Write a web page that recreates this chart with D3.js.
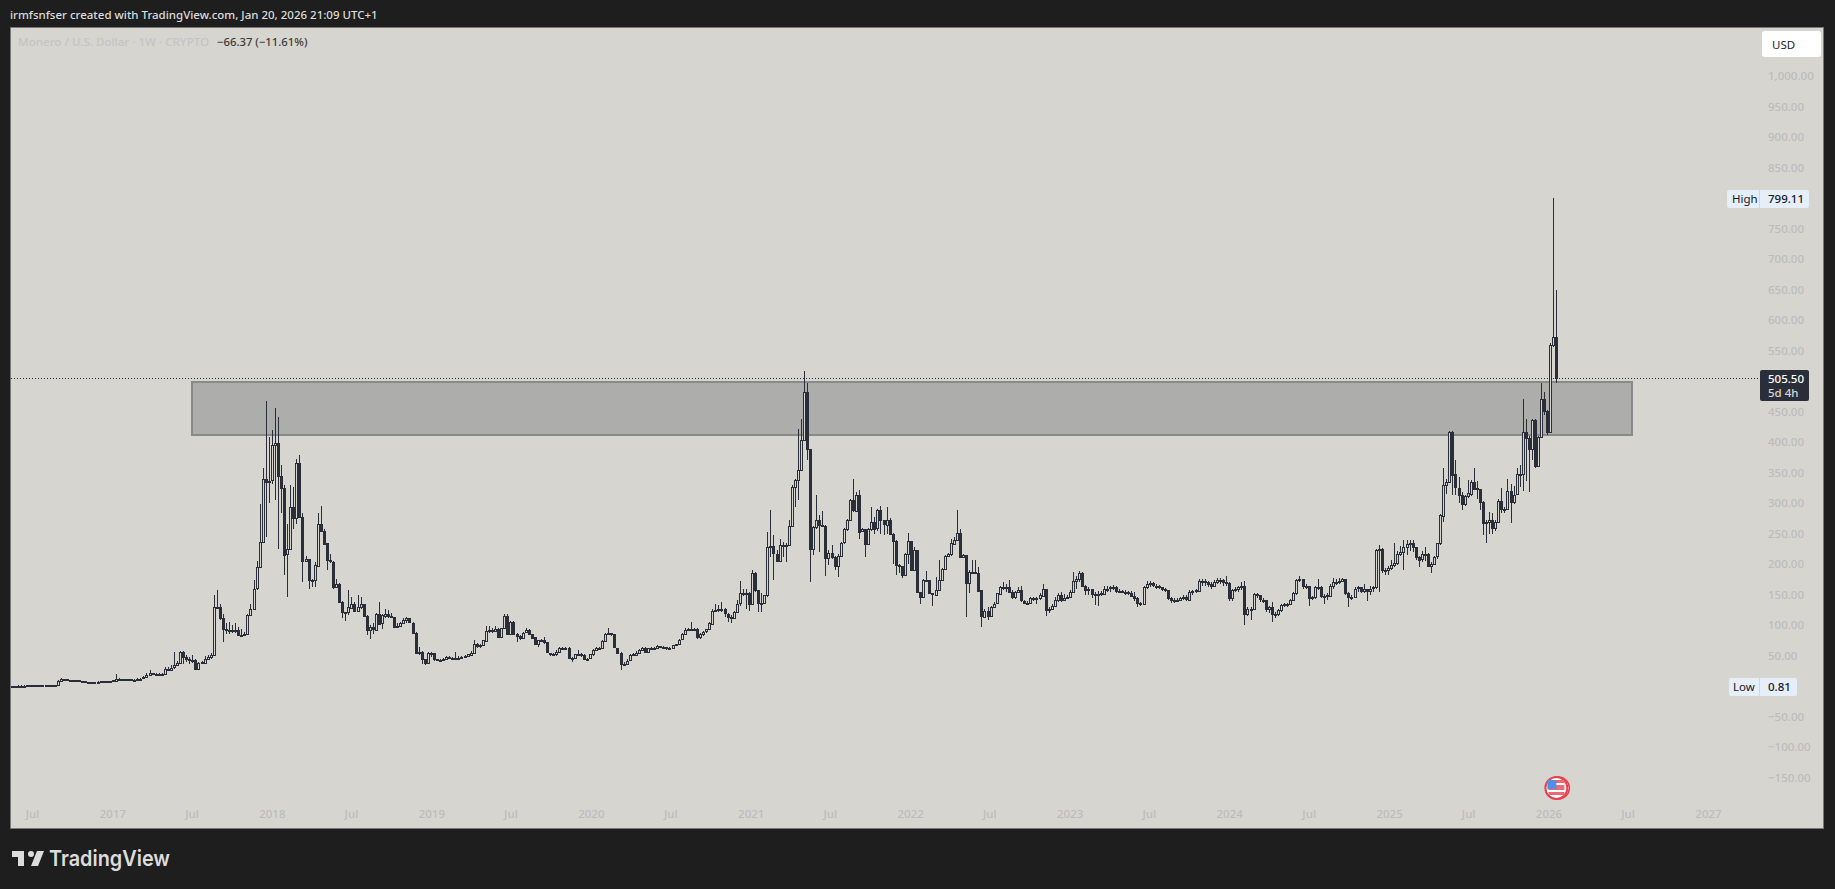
<!DOCTYPE html>
<html><head><meta charset="utf-8">
<script src="https://cdn.jsdelivr.net/npm/d3@7"></script>
<style>
html,body{margin:0;padding:0;background:#1e1e1e;overflow:hidden}
svg{display:block}
.axis text{font-family:"Noto Sans",sans-serif;font-size:11.5px;font-weight:500;fill:#bcbcbc}
.axis path{display:none}
</style></head><body><svg id="c" width="1835" height="889"></svg>
<script>
const startWeek = "2016-05-16";
const closes = [
1.0,1.1,1.2,1.2,1.2,1.3,1.3,1.3,1.4,1.4,
1.4,1.6,1.8,1.7,1.7,9,12,11.5,11,10.5,
10,9.5,9,8,7.5,7,6.5,6.8,7.5,8,
8.2,8.3,8.2,10,12.5,11.5,11,11.5,11.5,11,
11,12,12.5,14.5,18,21,20,19.5,20,20,
29,27,30,34,38,56,
48,44,43,43,27.5,38,39,45,48,51,
130,129,111,93,91,92,91,92,84,84,
86,117,127,160,195,236,340,335,337,395,
398,344,325,216,225,294,276,366,278,206,
209,174,173,198,266,255,234,206,204,163,
168,138,122,120,129,135,123,129,134,115,
92,97,93,119,103,116,119,115,113,97,
98,103,108,111,104,88,55,56,44,37,
54,54,44,43,43,44,48,47,46,45,
47,48,49,52,55,70,67,67,
75,91,92,91,94,81,95,115,85,105,
86,83,79,88,92,86,80,69,75,76,
72,55,53,52,56,62,63,63,47,45,
52,53,51,45,45,52,59,62,63,74,
86,87,85,63,55,37,37,42,51,52,
55,60,63,56,62,63,63,66,64,64,
63,62,67,69,76,85,92,93,92,93,
80,85,89,93,103,124,125,127,126,119,
114,112,122,135,
152,152,153,135,185,157,136,136,149,228,
229,217,206,232,231,231,262,326,338,354,
403,482,389,225,261,272,264,263,211,219,
212,197,213,235,257,272,305,288,314,254,
258,234,258,269,258,288,272,265,273,250,
238,198,197,182,216,238,190,223,154,146,
174,174,152,150,158,174,192,213,216,234,
240,251,212,215,169,187,187,186,157,114,
124,116,130,135,152,163,163,163,154,145,
154,157,140,137,137,145,144,144,149,
160,126,126,131,141,149,141,145,146,155,
173,176,186,165,158,160,151,149,151,152,
160,160,162,163,156,156,155,155,153,148,
145,137,135,163,168,169,165,164,163,160,
158,145,142,141,141,145,146,142,155,156,
157,173,173,171,168,165,171,174,174,170,
169,145,158,160,163,165,119,127,127,151,
149,142,141,127,130,119,118,125,133,134,
135,141,152,174,175,164,164,145,146,163,
163,148,148,149,165,171,171,172,175,152,
146,147,160,162,156,159,156,160,162,223,
224,189,190,193,198,202,217,
220,228,233,234,228,212,207,216,217,198,
201,212,234,280,330,335,417,347,325,313,
298,311,316,335,324,323,302,267,269,272,
259,269,304,291,291,320,302,314,347,347,
416,406,388,436,361,408,470,451,417,559,
571.87,505.5];
const highs = [
1.1,1.2,1.3,1.3,1.3,1.4,1.4,1.4,1.5,1.5,
1.6,2.2,2.0,1.9,1.8,10,13,12.5,11.5,11,
10.5,10,9.5,8.5,8,7.5,7,7.2,8,8.5,
8.6,8.7,8.6,11,20,13,12,12,12,12,
11.5,13,14,16,21,26,22,21,21,21,
32,31,34,56,41,58,
58,51,48,51,44,39,42,49,51,55,
149,158,134,119,103,105,100,103,97,94,
89,119,135,174,205,298,357,468,408,419,
455,441,362,329,266,330,327,373,378,284,
214,209,176,204,283,296,257,234,217,205,
176,169,139,122,157,146,138,149,146,135,
116,100,103,120,138,119,127,125,120,114,
103,105,111,114,112,105,89,64,58,45,
56,56,55,45,45,46,49,49,48,56,
50,50,51,53,57,76,71,70,
76,98,98,95,98,96,96,119,119,107,
107,88,84,89,96,93,85,81,76,78,
81,73,55,54,59,64,65,65,64,48,
53,60,55,52,47,53,61,64,65,76,
88,96,88,85,63,56,40,44,52,54,
57,61,65,64,63,65,65,68,66,66,
65,64,68,70,78,87,95,95,105,96,
95,87,90,94,105,126,135,133,138,128,
120,116,124,142,
173,160,159,154,190,187,158,152,150,253,
288,247,223,242,236,234,272,329,340,422,
438,516,497,389,262,314,280,287,264,223,
231,213,216,237,260,274,306,339,318,321,
259,258,259,294,277,291,296,273,294,276,
251,239,200,197,218,251,238,228,223,155,
176,189,174,153,179,206,193,215,218,242,
245,288,258,217,215,190,207,206,195,158,
126,130,131,138,153,165,171,168,174,157,
156,162,165,141,140,147,147,146,152,
168,160,130,134,146,152,155,151,150,158,
187,180,188,187,166,163,160,154,156,156,
165,165,165,166,164,160,158,158,156,156,
155,146,138,165,172,172,170,168,166,163,
161,158,146,144,144,147,149,149,158,158,
160,176,176,175,172,170,174,178,177,176,
180,170,160,163,165,170,172,130,130,153,
153,150,144,142,132,138,122,127,135,137,
137,143,155,176,181,176,168,165,148,165,
175,165,151,153,168,178,175,178,178,176,
154,150,163,165,162,168,160,165,165,225,
232,226,193,197,206,234,222,
230,239,240,240,240,228,214,222,228,218,
203,214,235,282,358,340,418,418,370,343,
318,313,338,338,357,337,322,304,272,286,
284,272,307,325,293,340,332,328,357,362,
470,437,410,438,438,410,496,482,452,562,
799.11,649];
const lows = [
0.81,1.0,1.1,1.1,1.1,1.2,1.2,1.2,1.3,1.3,
1.3,1.4,1.6,1.6,1.6,1.7,8.5,11,10.5,10,
9.5,9,8,7.5,7,6.5,6,6.3,6.8,7.5,
7.8,8,8,8,9.5,11,10.5,10.5,11,10.5,
10.5,10.8,11.8,12,14,17,19,19,19,19.5,
19.5,26,26,28,33,37,
37,40,37,38,26,27,36,37,45,45,
51,126,108,73,86,86,87,88,83,82,
82,84,116,126,158,194,236,245,300,332,
305,225,283,182,146,227,258,266,277,171,
204,160,163,163,198,254,233,190,202,160,
162,136,111,107,116,127,122,121,127,114,
84,78,86,92,102,94,111,112,111,96,
96,97,103,104,103,86,54,51,37,35,
36,48,42,41,41,42,43,44,44,44,
45,46,47,48,50,54,62,63,
66,74,88,88,90,80,80,94,84,85,
84,73,75,78,87,84,78,67,64,74,
70,54,50,50,50,55,60,60,46,40,
44,50,48,43,43,44,50,58,60,62,
73,84,82,62,54,27,35,36,41,50,
50,54,59,54,55,61,61,62,62,62,
60,60,61,66,69,76,84,90,90,91,
78,78,83,87,92,102,122,122,122,113,
106,104,110,120,
132,148,127,124,135,155,122,122,135,147,
212,174,205,206,212,204,231,262,294,305,
354,403,371,171,215,258,220,261,180,198,
209,190,179,212,233,255,270,286,287,242,
253,212,231,255,250,255,249,247,250,249,
201,182,185,178,182,201,189,189,153,135,
145,172,151,132,149,157,174,191,212,214,
233,239,210,212,114,152,184,184,155,97,
112,109,115,129,134,150,157,154,153,143,
143,152,138,134,134,136,140,135,142,
148,115,120,125,130,138,138,140,143,145,
154,160,170,163,150,150,145,133,131,148,
150,155,155,158,152,152,152,150,150,146,
140,129,131,135,160,162,162,160,160,156,
154,142,136,136,138,140,142,140,140,150,
152,155,165,165,163,160,162,168,168,165,
165,140,140,155,155,158,100,115,108,125,
145,138,136,122,120,105,112,115,122,130,
130,133,139,150,170,160,160,132,142,143,
158,145,135,142,147,160,166,168,170,150,
130,142,145,155,152,152,140,150,155,160,
155,186,183,182,190,196,198,
214,190,215,222,220,206,195,203,205,196,
186,198,208,232,269,315,333,313,313,300,
288,295,308,312,322,307,288,247,234,249,
250,255,267,283,283,288,267,298,313,326,
320,337,318,370,358,360,407,445,411,415,
555,497];

const priceTicks = [1000,950,900,850,750,700,650,600,550,450,400,350,300,250,200,150,100,50,-50,-100,-150];
const timeTickDates = ["2016-07-01","2017-01-01","2017-07-01","2018-01-01","2018-07-01","2019-01-01","2019-07-01","2020-01-01","2020-07-01","2021-01-01","2021-07-01","2022-01-01","2022-07-01","2023-01-01","2023-07-01","2024-01-01","2024-07-01","2025-01-01","2025-07-01","2026-01-01","2026-07-01","2027-01-01"];
const timeTickLabels = ["Jul","2017","Jul","2018","Jul","2019","Jul","2020","Jul","2021","Jul","2022","Jul","2023","Jul","2024","Jul","2025","Jul","2026","Jul","2027"];
const zoneTop = 498.4, zoneBottom = 411.6, zoneStart = "2017-07-02", zoneEnd = "2026-07-11";
const lastPrice = 505.5, highPrice = 799.11, lowPrice = 0.81;

const C = {page:"#1e1e1e",bg:"#d6d5d0",ink:"#2a2e39"};
const svg = d3.select("#c");
const parse = d3.utcParse("%Y-%m-%d");
const x = d3.scaleUtc().domain([parse("2016-07-01"),parse("2027-01-01")]).range([32,1708]);
const y = d3.scaleLinear().domain([1000,-150]).range([75.8,777.8]);
const week0 = parse(startWeek);
const bars = closes.map((c,i)=>({date:d3.utcWeek.offset(week0,i),o:i?closes[i-1]:c,c,h:highs[i],l:lows[i]}));

svg.append("rect").attr("width",1835).attr("height",889).attr("fill",C.page);
svg.append("rect").attr("x",10.5).attr("y",27.5).attr("width",1813).attr("height",801).attr("fill",C.bg).attr("stroke","#77787a");
svg.append("defs").append("clipPath").attr("id","plot").append("rect").attr("x",11).attr("y",28).attr("width",1812).attr("height",800);

// zone
const zx0=Math.round(x(parse(zoneStart))), zx1=Math.round(x(parse(zoneEnd))), zy0=Math.round(y(zoneTop)), zy1=Math.round(y(zoneBottom));
svg.append("rect").attr("x",zx0).attr("y",zy0).attr("width",zx1-zx0).attr("height",zy1-zy0)
 .attr("fill","#adadab").attr("stroke","#88898b").attr("stroke-width",2);

// last price line
svg.append("line").attr("x1",11).attr("x2",1760).attr("y1",Math.round(y(lastPrice))+.5).attr("y2",Math.round(y(lastPrice))+.5)
 .attr("stroke","#2a2e39").attr("stroke-width",1).attr("stroke-dasharray","1 2");

// candles
const g = svg.append("g").attr("clip-path","url(#plot)").attr("shape-rendering","crispEdges");
const bx = d=>Math.round(x(d.date));
g.selectAll("line.w").data(bars).join("line").attr("class","w")
 .attr("x1",d=>bx(d)+.5).attr("x2",d=>bx(d)+.5)
 .attr("y1",d=>y(d.h)).attr("y2",d=>y(d.l)).attr("stroke",C.ink).attr("stroke-width",1);
g.selectAll("rect.b").data(bars).join("rect").attr("class","b")
 .attr("x",d=>bx(d)-.5).attr("width",2)
 .attr("y",d=>Math.round(y(Math.max(d.o,d.c)))+.5)
 .attr("height",d=>Math.max(1,Math.round(y(Math.min(d.o,d.c))-y(Math.max(d.o,d.c)))))
 .attr("fill",d=>d.c>=d.o?C.bg:C.ink).attr("stroke",C.ink).attr("stroke-width",1);

// axes
svg.append("g").attr("class","axis").attr("transform","translate(1768,0)")
 .call(d3.axisRight(y).tickValues(priceTicks).tickSize(0).tickPadding(0).tickFormat(d3.format(",.2f")));
svg.append("g").attr("class","axis").attr("transform","translate(0,810)")
 .call(d3.axisBottom(x).tickValues(timeTickDates.map(parse)).tickSize(0).tickPadding(0).tickFormat((d,i)=>timeTickLabels[i]));
svg.selectAll(".tick line").remove();

const T=(tx,ty,s,o={})=>svg.append("text").attr("x",tx).attr("y",ty).text(s)
 .attr("font-family",o.f||'"Noto Sans",sans-serif').attr("font-size",o.s||12).attr("font-weight",o.w||400)
 .attr("fill",o.c||"#000").attr("text-anchor",o.a||"start");

// header + legend
T(10,19,"irmfsnfser created with TradingView.com, Jan 20, 2026 21:09 UTC+1",{c:"#dcdcdc",w:500,s:11.5});
T(18,46,"Monero / U.S. Dollar · 1W · CRYPTO",{c:"#c4c4c6",s:11.6,w:500});
T(217,46,"−66.37 (−11.61%)",{c:"#3a3a3a",s:11.3,w:500});

// USD
svg.append("rect").attr("x",1762).attr("y",31).attr("width",59).attr("height",26).attr("rx",3).attr("fill","#fff");
T(1772,49,"USD",{c:"#222",s:11.5});

// High / Low labels
const lab=(ly,name,val,bx0,bx1,split,nx)=>{
 const t=Math.round(ly)-8;
 svg.append("rect").attr("x",bx0).attr("y",t).attr("width",bx1-bx0).attr("height",18).attr("rx",2).attr("fill","#e6eefa");
 svg.append("line").attr("x1",split+.5).attr("x2",split+.5).attr("y1",t).attr("y2",t+18).attr("stroke","#d6d5d0");
 T(nx,t+13,name,{c:"#131722",s:11.5});
 T(1768,t+13,val,{c:"#131722",s:11.5,w:500});
};
lab(y(highPrice),"High","799.11",1727,1809,1759,1732);
lab(y(lowPrice),"Low","0.81",1729,1797,1759,1733);

// last price tag
svg.append("rect").attr("x",1760).attr("y",370).attr("width",49).attr("height",31).attr("rx",2).attr("fill","#2a2e39");
T(1768,383,"505.50",{c:"#fff",s:11.5,w:500});
T(1768,397,"5d 4h",{c:"#d7d7d7",s:11.5,w:500});

// flag
const fx=x(parse("2026-01-19")), fy=788;
svg.append("circle").attr("cx",fx+2).attr("cy",fy).attr("r",11).attr("fill","#fff").attr("stroke","#e8404f").attr("stroke-width",1.5);
svg.append("circle").attr("cx",fx).attr("cy",fy).attr("r",11).attr("fill","#fff").attr("stroke","#e8404f").attr("stroke-width",2);
svg.append("rect").attr("x",fx-8).attr("y",fy-8).attr("width",16).attr("height",10).attr("fill","#e96a74");
svg.append("rect").attr("x",fx-8).attr("y",fy-5).attr("width",16).attr("height",2).attr("fill","#fff");
svg.append("rect").attr("x",fx-8).attr("y",fy+4).attr("width",16).attr("height",3).attr("fill","#e96a74");
svg.append("rect").attr("x",fx-9).attr("y",fy-8).attr("width",9).attr("height",9).attr("fill","#4f8fe6");

// logo
svg.append("path").attr("d","M14 6H2v6h6v9h6V6zm14 15h-7l6-15h7l-6 15zm-7-9a3 3 0 1 0 0-6 3 3 0 0 0 0 6z")
 .attr("transform","translate(10,845)").attr("fill","#dcdcdc");
T(49,866,"TradingView",{c:"#dcdcdc",s:22,w:600,f:'Inter,sans-serif'}).attr("textLength",121).attr("lengthAdjust","spacingAndGlyphs");
</script></body></html>
